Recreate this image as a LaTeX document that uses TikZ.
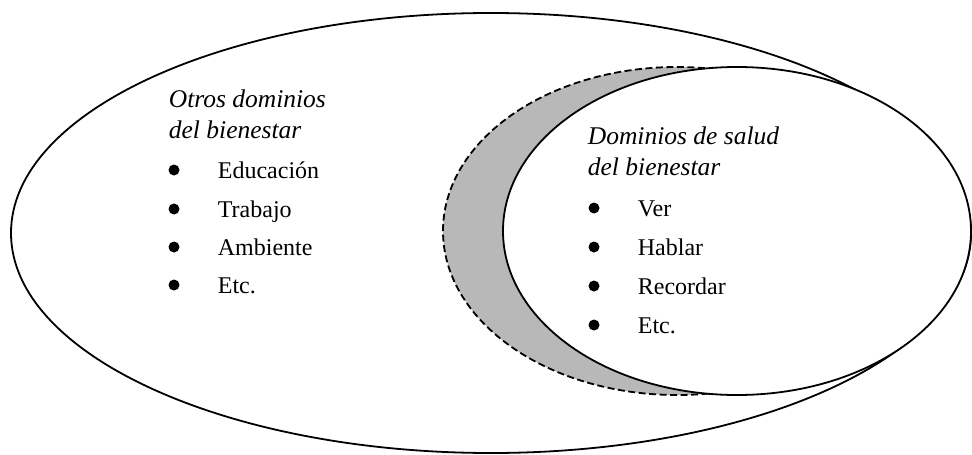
\documentclass[tikz,border=0pt]{standalone}
\usepackage{fontspec}
\setmainfont{Liberation Serif}
\begin{document}
\begin{tikzpicture}[x=1pt,y=-1pt,line width=1.8pt,
  txt/.style={anchor=base west,inner sep=0pt,font=\fontsize{24}{28}\selectfont},
  head/.style={txt,font=\fontsize{25.5}{30}\selectfont\itshape}]
\useasboundingbox (0,0) rectangle (972,455);
%\draw[thin,dotted] (0,0) grid[step=50] (972,455);
\draw (491,233) ellipse [x radius=480,y radius=220];
\draw[dash pattern=on 7pt off 3.5pt,fill=black!28] (677,231) ellipse [x radius=234,y radius=164];
\draw[fill=white] (737,231) ellipse [x radius=234,y radius=164];
% otros dominios
\node[head] (otros) at (168,107) {Otros dominios};
\node[head] (otrosb) at (168,138) {del bienestar};
\fill (174,170) circle (5.5);
\node[txt] (educ) at (217,178) {Educación};
\fill (174,209) circle (5.5);
\node[txt] (trab) at (217,217) {Trabajo};
\fill (174,247) circle (5.5);
\node[txt] (amb) at (217,255) {Ambiente};
\fill (174,285) circle (5.5);
\node[txt] (etca) at (217,293) {Etc.};
% dominios de salud
\node[head] (salud) at (587,144) {Dominios de salud};
\node[head] (saludb) at (587,175) {del bienestar};
\fill (594,208) circle (5.5);
\node[txt] (ver) at (637,216) {Ver};
\fill (594,247) circle (5.5);
\node[txt] (habl) at (637,255) {Hablar};
\fill (594,286) circle (5.5);
\node[txt] (rec) at (637,294) {Recordar};
\fill (594,325) circle (5.5);
\node[txt] (etcb) at (637,333) {Etc.};
\end{tikzpicture}
\end{document}
